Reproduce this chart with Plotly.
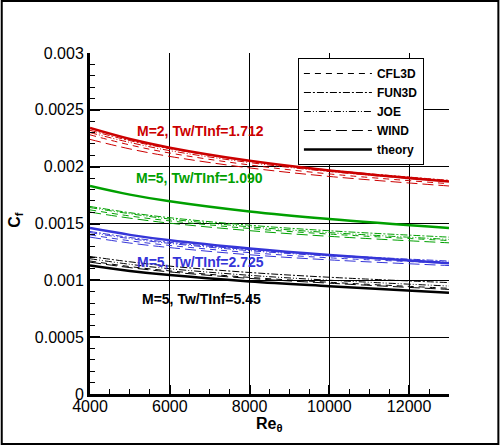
import plotly.graph_objects as go

re_theta = [4000, 5000, 6000, 8000, 10000, 13000]

codes = ["CFL3D", "FUN3D", "JOE", "WIND"]
code_dash = {
    "CFL3D": "6px,5px",
    "FUN3D": "7px,2px,2px,2px",
    "JOE": "7px,2px,1px,2px,1px,2px",
    "WIND": "11px,5px",
}

# M=2, Tw/Tinf=1.712
red_theory = [0.00234, 0.002243, 0.002167, 0.002052, 0.001967, 0.00187]
red_cfl3d = [0.00228, 0.002191, 0.00212, 0.002015, 0.001936, 0.00185]
red_fun3d = [0.00232, 0.002229, 0.002158, 0.00205, 0.00197, 0.00188]
red_joe = [0.00230, 0.002213, 0.002141, 0.002036, 0.001957, 0.00187]
red_wind = [0.00224, 0.002156, 0.00209, 0.001989, 0.001914, 0.00183]

# M=5, Tw/Tinf=1.090
green_theory = [0.00183, 0.001754, 0.001695, 0.001605, 0.001539, 0.00146]
green_cfl3d = [0.00162, 0.001566, 0.001523, 0.001456, 0.001407, 0.00135]
green_fun3d = [0.00165, 0.001595, 0.001551, 0.001485, 0.001436, 0.00138]
green_joe = [0.00164, 0.001586, 0.001539, 0.001471, 0.00142, 0.00136]
green_wind = [0.00160, 0.001547, 0.001503, 0.001437, 0.001387, 0.00133]

# M=5, Tw/Tinf=2.725
blue_theory = [0.00146, 0.0014, 0.001352, 0.00128, 0.001222, 0.00115]
blue_cfl3d = [0.00140, 0.001348, 0.001307, 0.001244, 0.001198, 0.00115]
blue_fun3d = [0.00143, 0.001377, 0.001334, 0.00127, 0.001223, 0.00117]
blue_joe = [0.00142, 0.001367, 0.001325, 0.001261, 0.001214, 0.00116]
blue_wind = [0.00138, 0.001328, 0.001288, 0.001225, 0.00118, 0.00113]

# M=5, Tw/Tinf=5.45
black_theory = [0.00113, 0.001083, 0.001046, 0.00099, 0.000948, 0.00089]
black_cfl3d = [0.00117, 0.001121, 0.001083, 0.001026, 0.000983, 0.00093]
black_fun3d = [0.00121, 0.001163, 0.001125, 0.001069, 0.001027, 0.00098]
black_joe = [0.00119, 0.001141, 0.001102, 0.001044, 0.001001, 0.00095]
black_wind = [0.00116, 0.001112, 0.001074, 0.001017, 0.000975, 0.00092]

cases = [
    ("M=2, Tw/TInf=1.712", "#cc0000",
     [red_cfl3d, red_fun3d, red_joe, red_wind], red_theory, 5137, 0.002314),
    ("M=5, Tw/TInf=1.090", "#00a000",
     [green_cfl3d, green_fun3d, green_joe, green_wind], green_theory, 5112, 0.0019),
    ("M=5, Tw/TInf=2.725", "#3535d8",
     [blue_cfl3d, blue_fun3d, blue_joe, blue_wind], blue_theory, 5137, 0.001161),
    ("M=5, Tw/TInf=5.45", "#000000",
     [black_cfl3d, black_fun3d, black_joe, black_wind], black_theory, 5262, 0.000836),
]

W, H = 500, 445
ML, MR, MT, MB = 89.5, 50.5, 53, 51
PW, PH = W - ML - MR, H - MT - MB

fig = go.Figure()
annotations = []
for label, color, code_vals, theory, lx, ly in cases:
    is_black = color == "#000000"
    for code, vals in zip(codes, code_vals):
        fig.add_trace(go.Scatter(
            x=re_theta, y=vals, mode="lines", name=code,
            line=dict(color=color, width=1, dash=code_dash[code], shape="spline"),
            showlegend=is_black, legendrank=codes.index(code) + 1,
        ))
    fig.add_trace(go.Scatter(
        x=re_theta, y=theory, mode="lines", name="theory",
        line=dict(color=color, width=2.5, shape="spline"),
        showlegend=is_black, legendrank=10,
    ))
    annotations.append(dict(
        x=lx, y=ly, text=label, showarrow=False, xanchor="left", yanchor="middle",
        font=dict(family="Liberation Sans", size=14, color=color, weight="bold"),
    ))

# axis titles placed by hand, as in the reference
annotations.append(dict(
    xref="paper", yref="paper", x=0.5, y=-(424 - (H - MB)) / PH,
    text="<b>Re<sub>θ</sub></b>", showarrow=False,
    xanchor="center", yanchor="middle", font=dict(size=16),
))
annotations.append(dict(
    xref="paper", yref="paper", x=-(ML - 14) / PW, y=(H - MB - 220) / PH,
    text="<b>C<sub>f</sub></b>", showarrow=False, textangle=-90,
    xanchor="center", yanchor="middle", font=dict(size=16),
))

# frame round the whole picture
fig.add_shape(type="rect", xref="paper", yref="paper",
              x0=-(ML - 1) / PW, x1=(PW + MR - 1) / PW,
              y0=-(MB - 1) / PH, y1=(PH + MT - 1) / PH,
              line=dict(color="black", width=2))

fig.update_layout(
    width=W, height=H,
    margin=dict(l=ML, r=MR, t=MT, b=MB, autoexpand=False),
    paper_bgcolor="white", plot_bgcolor="white",
    font=dict(family="Liberation Sans", size=16, color="black"),
    annotations=annotations,
    showlegend=True,
    legend=dict(
        x=(298 - ML) / PW, y=(H - MB - 58) / PH, xanchor="left", yanchor="top",
        bgcolor="white", bordercolor="black", borderwidth=1,
        font=dict(size=12, weight="bold"),
        itemwidth=68, tracegroupgap=0,
    ),
)

fig.update_xaxes(
    range=[4000, 13000], dtick=2000, tick0=4000,
    showgrid=True, gridcolor="black", gridwidth=1,
    showline=True, linecolor="black", linewidth=3,
    ticks="inside", ticklen=9, tickwidth=2, tickcolor="black",
    minor=dict(dtick=500, ticks="inside", ticklen=5, tickwidth=1,
               tickcolor="black", showgrid=False),
    zeroline=False, tickformat="d", automargin=False, ticklabelstandoff=-4,
)
fig.update_yaxes(
    range=[0, 0.003], dtick=0.0005, tick0=0,
    showgrid=True, gridcolor="black", gridwidth=1,
    showline=True, linecolor="black", linewidth=3,
    ticks="inside", ticklen=10, tickwidth=2, tickcolor="black",
    minor=dict(dtick=0.0001, ticks="inside", ticklen=5, tickwidth=1,
               tickcolor="black", showgrid=False),
    zeroline=False, exponentformat="none", tickformat="~g", automargin=False,
)

fig.write_html(
    "out.html",
    config={"displayModeBar": False},
    post_script="document.body.style.margin='0';document.body.style.overflow='hidden';",
)
